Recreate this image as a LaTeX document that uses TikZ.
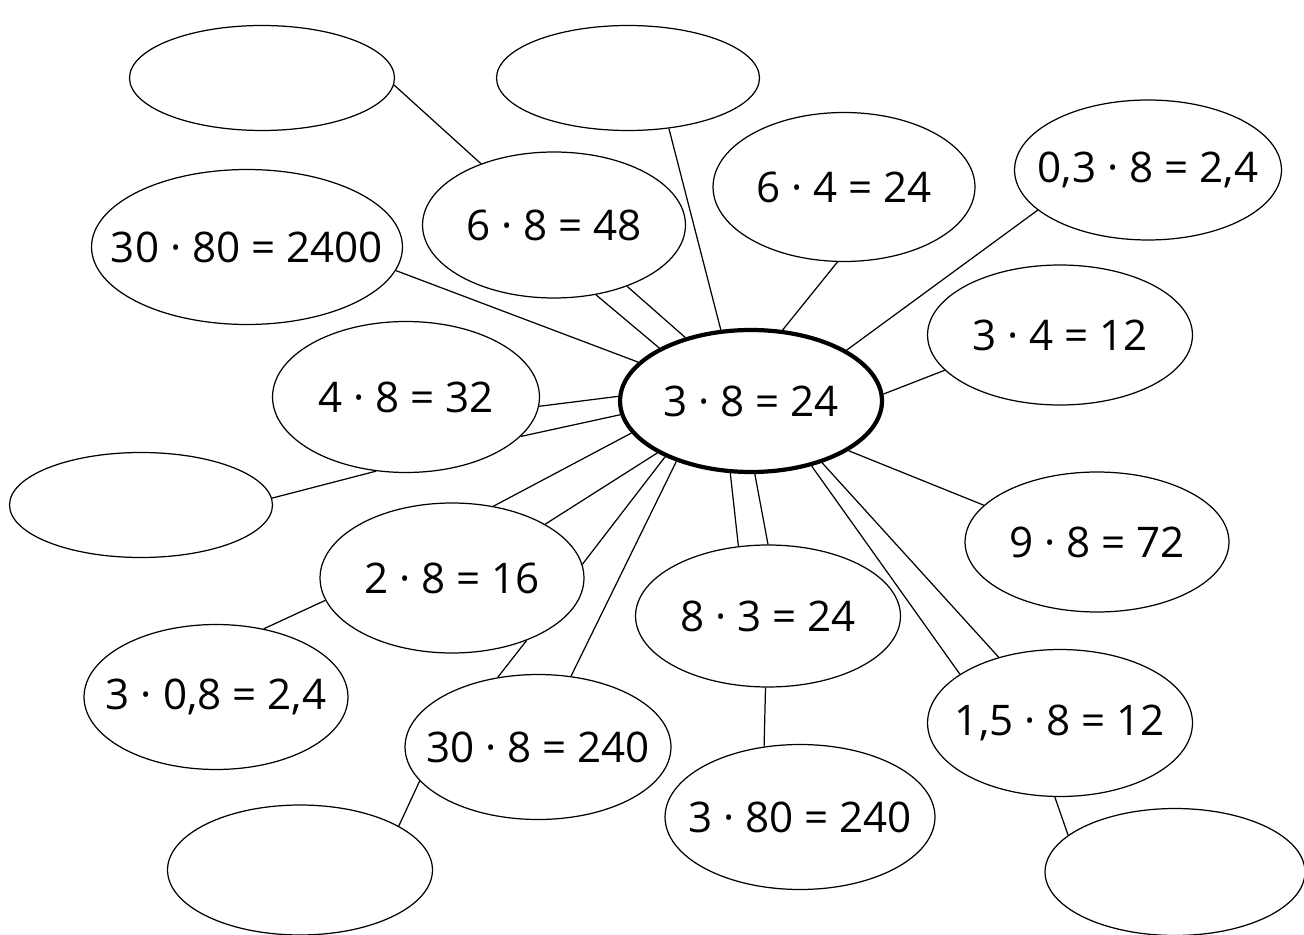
\documentclass[tikz,border=0pt]{standalone}
\usepackage{fontspec}
\setmainfont{Open Sans}
\usetikzlibrary{shapes.geometric}

\begin{document}
\begin{tikzpicture}[x=0.02cm,y=-0.02cm]
\useasboundingbox (0,0) rectangle (1304,935);
\begin{scope}[every node/.style={ellipse,draw,line width=0.7pt,inner xsep=-2cm,inner ysep=-0.5cm,
                                 font=\fontsize{24}{28}\selectfont},
              dims/.style 2 args={minimum width=#1cm,minimum height=#2cm}]
    \node [dims={5.30}{2.10}] (b1) at (262,78) {};
    \node [dims={5.26}{2.10}] (b2) at (628,78) {};
    \node [dims={5.26}{2.92}] (x6x8) at (554,225) {6 · 8 = 48};
    \node [dims={5.24}{2.98}] (x6x4) at (844,187) {6 · 4 = 24};
    \node [dims={5.34}{2.80}] (x03x8) at (1148,170) {0,3 · 8 = 2,4};
    \node [dims={6.22}{3.10}] (x30x80) at (247,247) {30 · 80 = 2400};
    \node [dims={5.30}{2.80}] (x3x4) at (1060,335) {3 · 4 = 12};
    \node [dims={5.34}{3.02}] (x4x8) at (406,397) {4 · 8 = 32};
    \node [dims={5.26}{2.10}] (b3) at (141,505) {};
    \node [dims={5.28}{2.80}] (x9x8) at (1097,542) {9 · 8 = 72};
    \node [dims={5.28}{3.00}] (x2x8) at (452,578) {2 · 8 = 16};
    \node [dims={5.30}{2.84}] (x8x3) at (768,616) {8 · 3 = 24};
    \node [dims={5.28}{2.90}] (x3x08) at (216,697) {3 · 0,8 = 2,4};
    \node [dims={5.30}{2.94}] (x15x8) at (1060,723) {1,5 · 8 = 12};
    \node [dims={5.32}{2.90}] (x30x8) at (538,747) {30 · 8 = 240};
    \node [dims={5.40}{2.90}] (x3x80) at (800,817) {3 · 80 = 240};
    \node [dims={5.30}{2.60}] (b4) at (300,870) {};
    \node [dims={5.20}{2.54}] (b5) at (1175,872) {};
    \node [dims={5.24}{2.84},line width=2.4pt] (hub) at (751,401) {3 · 8 = 24};
\end{scope}
\begin{scope}[thin_edge/.style={draw=black,line width=0.7pt}]
    \path (b1.357) edge [thin_edge] (x6x8.140);
    \path (b2.309) edge [thin_edge] (hub.113);
    \path (x6x8.301) edge [thin_edge] (hub.150);
    \path (x6x8.320) edge [thin_edge] (hub.136);
    \path (x30x80.351) edge [thin_edge] (hub.161);
    \path (x6x4.265) edge [thin_edge] (hub.66);
    \path (x03x8.200) edge [thin_edge] (hub.28);
    \path (x3x4.197) edge [thin_edge] (hub.3);
    \path (x4x8.356) edge [thin_edge] (hub.178);
    \path (x4x8.341) edge [thin_edge] (hub.186);
    \path (b3.3) edge [thin_edge] (x4x8.248);
    \path (hub.333) edge [thin_edge] (x9x8.162);
    \path (x2x8.60) edge [thin_edge] (hub.195);
    \path (x2x8.30) edge [thin_edge] (hub.209);
    \path (x2x8.6) edge [thin_edge] (hub.213);
    \path (hub.219) edge [thin_edge] (x30x8.65);
    \path (hub.254) edge [thin_edge] (x8x3.113);
    \path (hub.273) edge [thin_edge] (x8x3.90);
    \path (hub.313) edge [thin_edge] (x15x8.154);
    \path (hub.319) edge [thin_edge] (x15x8.133);
    \path (x2x8.190) edge [thin_edge] (x3x08.55);
    \path (x2x8.320) edge [thin_edge] (x30x8.120);
    \path (x30x8.196) edge [thin_edge] (b4.24);
    \path (x8x3.268) edge [thin_edge] (x3x80.117);
    \path (x15x8.266) edge [thin_edge] (b5.161);
\end{scope}
\end{tikzpicture}
\end{document}
